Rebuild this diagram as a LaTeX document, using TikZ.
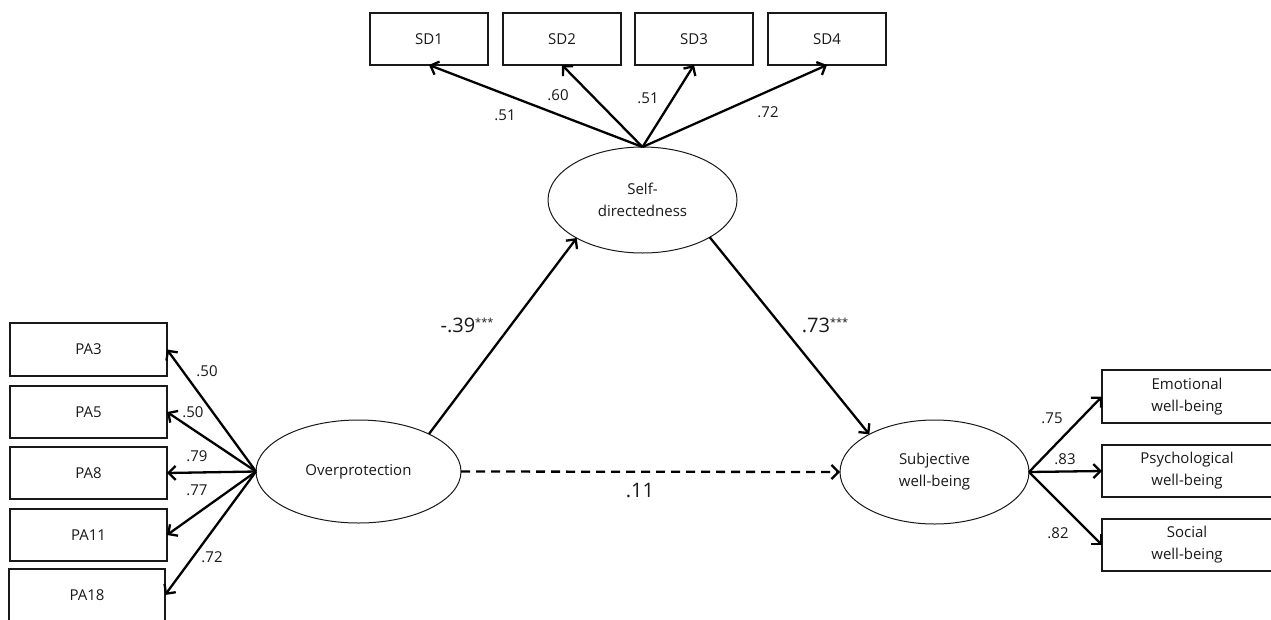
\documentclass[tikz,border=0pt]{standalone}
\usepackage{fontspec}
\setmainfont{Open Sans}
\usetikzlibrary{shapes.geometric,arrows.meta}
\newcommand{\sig}{\raisebox{6pt}{\fontsize{11}{11}\selectfont ***}}
\begin{document}
\begin{tikzpicture}[x=1pt,y=-1pt,
  obsbox/.style={draw=black!90,line width=1.4pt,rectangle,minimum width=157pt,minimum height=52pt,
    inner sep=0pt,outer sep=0pt,font=\fontsize{15}{22}\selectfont,text=black!90,align=center},
  latent/.style={draw=black!90,line width=1pt,ellipse,inner sep=0pt,outer sep=0pt,
    font=\fontsize{15}{22}\selectfont,text=black!90,align=center},
  conn/.style={line width=2.3pt,black,-{Straight Barb[length=7pt,width=14pt]}},
  lab/.style={font=\fontsize{15}{18}\selectfont,text=black!90,inner sep=0pt},
  biglab/.style={font=\fontsize{20}{24}\selectfont,text=black!90,inner sep=0pt}
]
\clip (0,0) rectangle (1271,619);
\fill[white] (0,0) rectangle (1271,619);

% observed indicators, left
\node[obsbox,minimum height=53pt] (pa3) at (88.5,349.5) {PA3};
\node[obsbox] (pa5) at (88.5,412) {PA5};
\node[obsbox] (pa8) at (88.5,473) {PA8};
\node[obsbox] (pa11) at (88.5,535) {PA11};
\node[obsbox,minimum width=156pt] (pa18) at (87,595) {PA18};

% top indicators
\node[obsbox,minimum width=118pt] (sd1) at (429,39) {SD1};
\node[obsbox,minimum width=118pt] (sd2) at (562,39) {SD2};
\node[obsbox,minimum width=118pt] (sd3) at (694,39) {SD3};
\node[obsbox,minimum width=118pt] (sd4) at (827,39) {SD4};

% right indicators
\node[obsbox,minimum width=170pt,minimum height=53pt] (emo) at (1187,396.5) {Emotional\\well-being};
\node[obsbox,minimum width=170pt] (psy) at (1187,471) {Psychological\\well-being};
\node[obsbox,minimum width=170pt] (soc) at (1187,545) {Social\\well-being};

% latent variables
\node[latent,minimum width=205pt,minimum height=103pt] (op) at (358.5,471.5) {Overprotection};
\node[latent,minimum width=189pt,minimum height=106pt] (sd) at (642.5,200) {Self-\\directedness};
\node[latent,minimum width=189pt,minimum height=104pt] (sw) at (934.5,472) {Subjective\\well-being};

% loadings
\draw[conn] (op.west) -- (pa3.east);
\draw[conn] (op.west) -- (pa5.east);
\draw[conn] (op.west) -- (pa8.east);
\draw[conn] (op.west) -- (pa11.east);
\draw[conn] (op.west) -- (pa18.east);

\draw[conn] (sd.north) -- (sd1.south);
\draw[conn] (sd.north) -- (sd2.south);
\draw[conn] (sd.north) -- (sd3.south);
\draw[conn] (sd.north) -- (sd4.south);

\draw[conn] (sw.east) -- (emo.west);
\draw[conn] (sw.east) -- (psy.west);
\draw[conn] (sw.east) -- (soc.west);

% structural paths
\draw[conn] (op.28.3) -- (sd.210);
\draw[conn] (sd.-29.4) -- (sw.150);
\draw[conn,dash pattern=on 9pt off 6pt] (op.east) -- (sw.west);

% loading labels
\node[lab] (l1) at (207,371) {.50};
\node[lab] (l2) at (193,412) {.50};
\node[lab] (l3) at (197,456) {.79};
\node[lab] (l4) at (197,490) {.77};
\node[lab] (l5) at (212,557) {.72};

\node[lab] (l6) at (505,115) {.51};
\node[lab] (l7) at (558,95) {.60};
\node[lab] (l8) at (648,98) {.51};
\node[lab] (l9) at (768,112) {.72};

\node[lab] (l10) at (1052,418) {.75};
\node[lab] (l11) at (1065,459) {.83};
\node[lab] (l12) at (1058,533) {.82};

% path coefficients
\node[biglab] (b1) at (467,325) {-.39\sig};
\node[biglab] (b2) at (825,325) {.73\sig};
\node[biglab] (b3) at (640,490) {.11};
\end{tikzpicture}
\end{document}
